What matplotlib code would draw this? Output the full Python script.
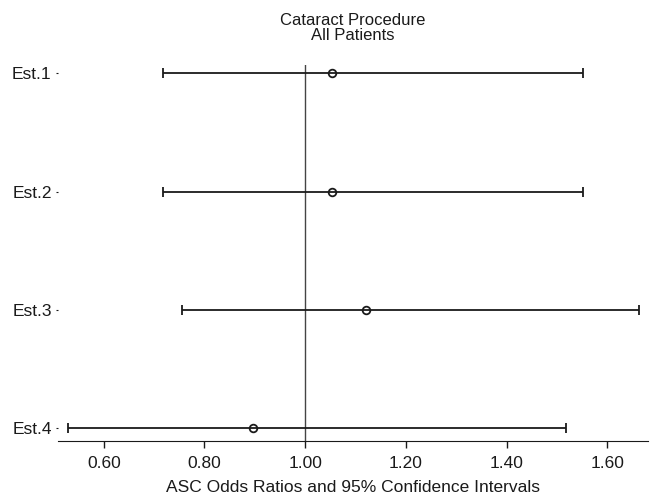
import matplotlib
matplotlib.use('Agg')
import matplotlib.pyplot as plt

plt.rcParams['font.family'] = ['Liberation Sans', 'DejaVu Sans']

# estimates
labels = ['Est.1', 'Est.2', 'Est.3', 'Est.4']
odds = [1.054, 1.054, 1.121, 0.896]
lower = [0.718, 0.718, 0.755, 0.529]
upper = [1.551, 1.551, 1.664, 1.518]
xticks = [0.60, 0.80, 1.00, 1.20, 1.40, 1.60]

fig = plt.figure(figsize=(6.5, 4.99), dpi=100)
ax = fig.add_axes([0.0892, 0.1162, 0.9078, 0.7535])

ypos = list(range(1, len(labels) + 1))
xerr = [[o - l for o, l in zip(odds, lower)], [u - o for o, u in zip(odds, upper)]]

ax.axvline(1.0, color='#444444', lw=1.0, zorder=1)
ax.errorbar(odds, ypos, xerr=xerr, fmt='o', color='#1a1a1a', ecolor='#1a1a1a',
            elinewidth=1.3, capsize=3.5, capthick=1.3,
            mfc='none', mec='#1a1a1a', ms=5.5, mew=1.3, zorder=3)

ax.set_xlim(0.509, 1.681)
ax.set_ylim(4.11, 0.93)
ax.set_yticks(ypos)
ax.set_yticklabels(labels, fontsize=12.5)
ax.set_xticks(xticks)
ax.set_xticklabels(['%.2f' % t for t in xticks], fontsize=12.5)

for s in ['left', 'top', 'right']:
    ax.spines[s].set_visible(False)
ax.spines['bottom'].set_color('#1a1a1a')
ax.tick_params(axis='y', length=1.5, width=0.8, pad=3, colors='#1a1a1a')
ax.tick_params(axis='x', length=5, width=1.0, pad=6, colors='#1a1a1a')

ax.set_title('Cataract Procedure\nAll Patients', fontsize=12, linespacing=1.0,
             pad=18, color='#1a1a1a')
ax.set_xlabel('ASC Odds Ratios and 95% Confidence Intervals', fontsize=12.5,
              labelpad=6, color='#1a1a1a')

fig.savefig('out.png', dpi=100)
